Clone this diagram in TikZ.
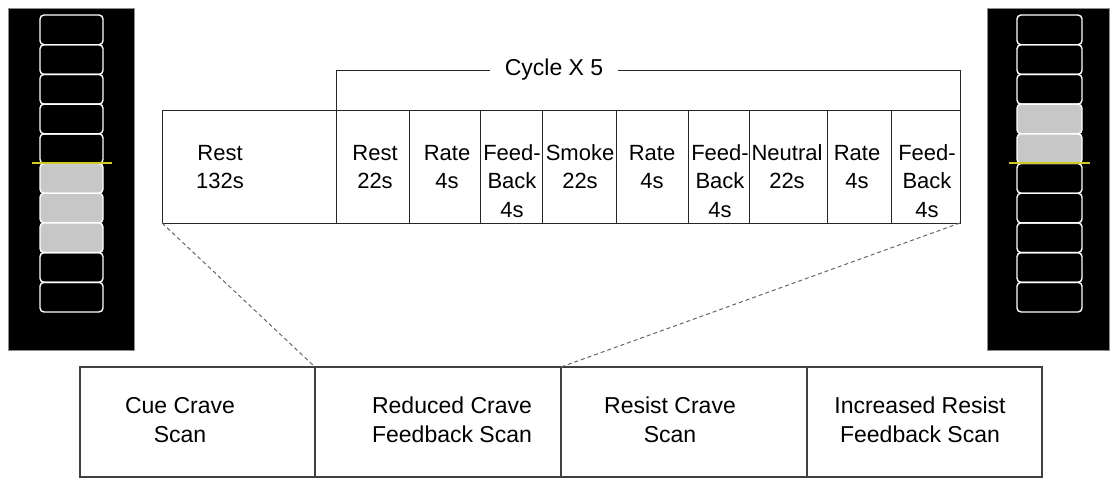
\documentclass[tikz,border=0pt]{standalone}
\usepackage{fontspec}
\setmainfont{Liberation Sans}
\newcommand\celltext[1]{\parbox[t]{240pt}{\centering #1}}
\begin{document}
\begin{tikzpicture}[x=1pt,y=-1pt,
  cell/.style={draw=black!85, line width=1pt, anchor=north west, inner sep=0pt, outer sep=0pt, minimum height=113pt},
  bcell/.style={draw=black!75, line width=1.1pt, anchor=north west, inner sep=0pt, outer sep=0pt, minimum height=110pt},
  toptxt/.style={inner sep=0pt, anchor=base, font=\fontsize{22}{28.5}\selectfont},
  bottxt/.style={inner sep=0pt, anchor=base, font=\fontsize{23}{29}\selectfont},
  zoomline/.style={draw=black!60, dash pattern=on 4pt off 3pt, line width=1pt},
  panel/.style={fill=black, draw=black!45, line width=0.8pt},
  slot/.style={draw=white, line width=1.4pt, rounded corners=4pt},
  slotlit/.style={slot, fill=black!22},
  marker/.style={draw=yellow!80!black, line width=1.8pt}]
\useasboundingbox (0,0) rectangle (1110,479);

% left scan panel
\draw[panel] (8,8) rectangle (134,350);
\foreach \i in {0,1,2,3,4,8,9}
  \draw[slot] (40,{15+\i*29.7}) rectangle (103,{15+(\i+1)*29.7});
\foreach \i in {5,6,7}
  \draw[slotlit] (40,{15+\i*29.7}) rectangle (103,{15+(\i+1)*29.7});
\draw[marker] (32,163) -- (112,163);

% right scan panel
\draw[panel] (987,8) rectangle (1109,350);
\foreach \i in {0,1,2,5,6,7,8,9}
  \draw[slot] (1017,{15+\i*29.7}) rectangle (1082,{15+(\i+1)*29.7});
\foreach \i in {3,4}
  \draw[slotlit] (1017,{15+\i*29.7}) rectangle (1082,{15+(\i+1)*29.7});
\draw[marker] (1009,163) -- (1090,163);

% top timeline table
\node[cell, minimum width=174pt] (t0) at (162,110) {};
\node[cell, minimum width=73pt] (t1) at (336,110) {};
\node[cell, minimum width=71pt] (t2) at (409,110) {};
\node[cell, minimum width=62pt] (t3) at (480,110) {};
\node[cell, minimum width=74pt] (t4) at (542,110) {};
\node[cell, minimum width=72pt] (t5) at (616,110) {};
\node[cell, minimum width=61pt] (t6) at (688,110) {};
\node[cell, minimum width=78pt] (t7) at (749,110) {};
\node[cell, minimum width=64pt] (t8) at (827,110) {};
\node[cell, minimum width=69pt] (t9) at (891,110) {};

\node[toptxt] (x0) at (220,160) {\celltext{Rest\\132s}};
\node[toptxt] (x1) at (375,160) {\celltext{Rest\\22s}};
\node[toptxt] (x2) at (447,160) {\celltext{Rate\\4s}};
\node[toptxt] (x3) at (512,160) {\celltext{Feed-\\Back\\4s}};
\node[toptxt] (x4) at (580,160) {\celltext{Smoke\\22s}};
\node[toptxt] (x5) at (652,160) {\celltext{Rate\\4s}};
\node[toptxt] (x6) at (720,160) {\celltext{Feed-\\Back\\4s}};
\node[toptxt] (x7) at (787,160) {\celltext{Neutral\\22s}};
\node[toptxt] (x8) at (857,160) {\celltext{Rate\\4s}};
\node[toptxt] (x9) at (927,160) {\celltext{Feed-\\Back\\4s}};

% cycle bracket
\node[inner ysep=0pt, inner xsep=15pt, font=\fontsize{23}{28}\selectfont] (cyc) at (554,70) {Cycle X 5};
\draw[black!85, line width=1pt] (t1.north west) |- (cyc.west);
\draw[black!85, line width=1pt] (cyc.east) -| (t9.north east);

% bottom scan table
\node[bcell, minimum width=235pt] (b0) at (80,367) {};
\node[bcell, minimum width=246pt] (b1) at (315,367) {};
\node[bcell, minimum width=246pt] (b2) at (561,367) {};
\node[bcell, minimum width=235pt] (b3) at (807,367) {};

\node[bottxt] (y0) at (180,413) {\celltext{Cue Crave\\Scan}};
\node[bottxt] (y1) at (452,413) {\celltext{Reduced Crave\\Feedback Scan}};
\node[bottxt] (y2) at (670,413) {\celltext{Resist Crave\\Scan}};
\node[bottxt] (y3) at (920,413) {\celltext{Increased Resist\\Feedback Scan}};

% zoom connectors
\draw[zoomline] (t0.south west) -- (b1.north west);
\draw[zoomline] (t9.south east) -- (b2.north west);
\end{tikzpicture}
\end{document}
